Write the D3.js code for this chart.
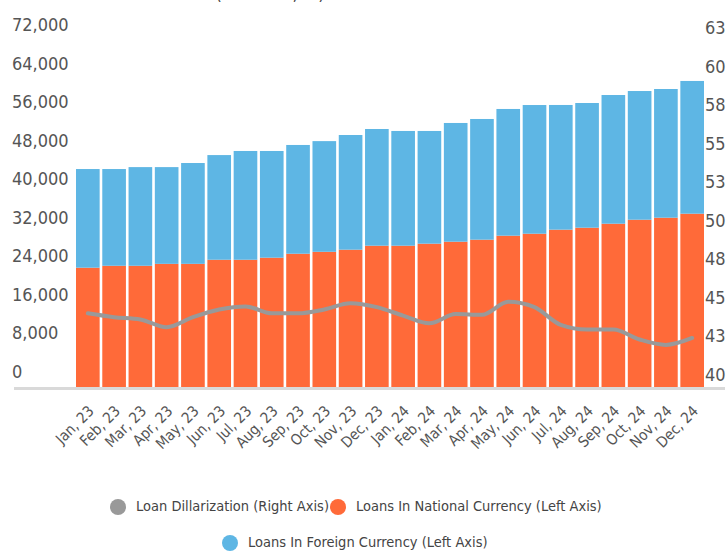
<!DOCTYPE html>
<html>
<head>
<meta charset="utf-8">
<script src="https://cdn.jsdelivr.net/npm/d3@7"></script>
<style>
  html, body { margin: 0; padding: 0; background: #fff; }
  svg text { font-family: "Liberation Sans Narrow", "DejaVu Sans Condensed", sans-serif; }
</style>
</head>
<body>
<div id="chart"></div>
<script>
// months shown on the x axis
const months = ["Jan, 23", "Feb, 23", "Mar, 23", "Apr, 23", "May, 23", "Jun, 23",
    "Jul, 23", "Aug, 23", "Sep, 23", "Oct, 23", "Nov, 23", "Dec, 23",
    "Jan, 24", "Feb, 24", "Mar, 24", "Apr, 24", "May, 24", "Jun, 24",
    "Jul, 24", "Aug, 24", "Sep, 24", "Oct, 24", "Nov, 24", "Dec, 24"];

// loans in national currency (left axis)
const nationalLoans = [25000, 25400, 25400, 25800, 25800, 26650, 26650, 27080, 27900, 28300, 28740, 29570,
    29570, 29990, 30400, 30820, 31650, 32060, 32900, 33310, 34140, 34970, 35390, 36220];

// loans in foreign currency (left axis), stacked on top
const foreignLoans = [20500, 20100, 20500, 20100, 20950, 21750, 22600, 22170, 22600, 23000, 23830, 24250,
    23840, 23420, 24670, 25080, 26330, 26740, 25910, 25910, 26740, 26740, 26740, 27580];

// loan dollarization, % (right axis)
const dollarization = [44.85, 44.6, 44.45, 43.95, 44.6, 45.1, 45.3, 44.85, 44.85, 45.1, 45.5, 45.25,
    44.7, 44.2, 44.8, 44.75, 45.6, 45.25, 44.1, 43.8, 43.8, 43.15, 42.8, 43.25];

const leftTicks = [0, 8000, 16000, 24000, 32000, 40000, 48000, 56000, 64000, 72000];
const rightTicks = [40, 42.5, 45, 47.5, 50, 52.5, 55, 57.5, 60, 62.5];

const legendNames = ["Loan Dillarization (Right Axis)", "Loans In National Currency (Left Axis)", "Loans In Foreign Currency (Left Axis)"];
const colors = { line: "#999999", national: "#ff6a39", foreign: "#5eb6e4" };

const width = 726, height = 554;
const plotLeft = 76, plotRight = 704, plotBottom = 388, plotTop = 41.5;

const svg = d3.select("#chart").append("svg")
    .attr("width", width)
    .attr("height", height);

const x = d3.scaleBand()
    .domain(months)
    .range([plotLeft, plotRight])
    .paddingInner(0.1)
    .paddingOuter(0);

const yLeft = d3.scaleLinear().domain([0, 72000]).range([plotBottom, plotTop]);
const yRight = d3.scaleLinear().domain([40, 62.5]).range([plotBottom, plotTop]);

// title, cut off at the top edge like in the source
svg.append("text")
    .attr("x", 270)
    .attr("y", 0)
    .attr("text-anchor", "middle")
    .style("font-size", "18px")
    .style("fill", "#444")
    .text("(Mln. GEL, %)");

// stacked bars
const rows = months.map((m, i) => ({ month: m, national: nationalLoans[i], foreign: foreignLoans[i] }));
const stack = d3.stack().keys(["national", "foreign"])(rows);

svg.append("g")
    .selectAll("g")
    .data(stack)
    .join("g")
    .attr("fill", d => colors[d.key])
    .selectAll("rect")
    .data(d => d)
    .join("rect")
    .attr("x", d => x(d.data.month))
    .attr("width", x.bandwidth())
    .attr("y", d => yLeft(d[1]))
    .attr("height", d => yLeft(d[0]) - yLeft(d[1]));

// baseline
svg.append("line")
    .attr("x1", 14).attr("x2", 725)
    .attr("y1", plotBottom + 0.5).attr("y2", plotBottom + 0.5)
    .attr("stroke", "#d9d9d9")
    .attr("stroke-width", 3);

// dollarization line
const line = d3.line()
    .x((d, i) => x(months[i]) + x.bandwidth() / 2)
    .y(d => yRight(d))
    .curve(d3.curveMonotoneX);

svg.append("path")
    .datum(dollarization)
    .attr("fill", "none")
    .attr("stroke", colors.line)
    .attr("stroke-width", 4)
    .attr("stroke-linecap", "round")
    .attr("d", line);

// left axis
const leftAxis = svg.append("g")
    .attr("transform", "translate(12,0)")
    .call(d3.axisLeft(yLeft).tickValues(leftTicks).tickSize(0).tickFormat(d3.format(",")));
leftAxis.select(".domain").remove();
leftAxis.selectAll("text")
    .attr("x", 0)
    .attr("dy", null)
    .attr("y", -16)
    .attr("dominant-baseline", "middle")
    .attr("text-anchor", "start")
    .style("font-size", "18px")
    .style("fill", "#555")
    .style("font-family", null);

// right axis
const rightAxis = svg.append("g")
    .attr("transform", "translate(705,0)")
    .call(d3.axisRight(yRight).tickValues(rightTicks).tickSize(0).tickFormat(d3.format(".0f")));
rightAxis.select(".domain").remove();
rightAxis.selectAll("text")
    .attr("x", 0)
    .attr("dy", null)
    .attr("y", -13)
    .attr("dominant-baseline", "middle")
    .attr("text-anchor", "start")
    .style("font-size", "18px")
    .style("fill", "#555");

// x axis
const xAxis = svg.append("g")
    .attr("transform", `translate(0,${plotBottom})`)
    .call(d3.axisBottom(x).tickSize(0));
xAxis.select(".domain").remove();
xAxis.selectAll("text")
    .attr("x", 0)
    .attr("y", 0)
    .attr("dy", null)
    .attr("transform", "translate(7,24) rotate(-45)")
    .attr("text-anchor", "end")
    .style("font-size", "15px")
    .style("fill", "#555");

// legend
const legendItems = [
    { name: legendNames[0], color: colors.line, cx: 118, cy: 507 },
    { name: legendNames[1], color: colors.national, cx: 338, cy: 507 },
    { name: legendNames[2], color: colors.foreign, cx: 230, cy: 543 }
];
const legend = svg.append("g")
    .selectAll("g")
    .data(legendItems)
    .join("g")
    .attr("transform", d => `translate(${d.cx},${d.cy})`);
legend.append("circle")
    .attr("r", 8)
    .attr("fill", d => d.color);
legend.append("text")
    .attr("x", 18)
    .attr("dominant-baseline", "middle")
    .style("font-size", "14.5px")
    .style("fill", "#444")
    .text(d => d.name);
</script>
</body>
</html>
